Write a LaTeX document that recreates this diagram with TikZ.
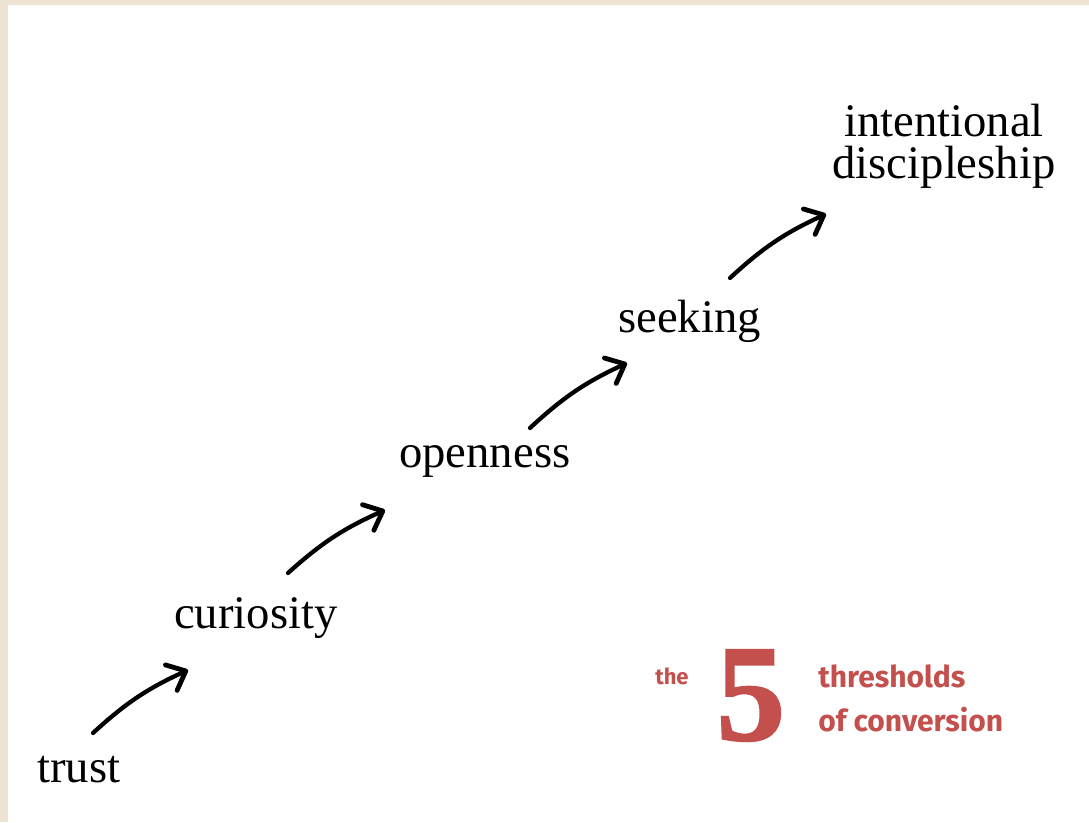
\documentclass[tikz,border=0pt]{standalone}
\usepackage{fontspec}
\setmainfont{Liberation Serif}
\newfontfamily\logofont{Fira Sans}
\newfontface\fivefont[FakeBold=1.3]{Liberation Serif Bold}
\usetikzlibrary{arrows.meta, positioning, calc}
\definecolor{paper}{RGB}{237,227,210}
\definecolor{logored}{RGB}{196,80,77}
\tikzset{
  thresholds/.style={
	x=0.75pt, y=-0.75pt, % one unit is one pixel of the sketch
	every node/.style={inner sep=0pt}, % text sits exactly where it is put
  },
  stage/.style={anchor=base west, font=\fontsize{35}{31.5}\selectfont}, % the serif labels
  climb/.style={-{Straight Barb[length=12pt,width=21pt,round,line width=3.6pt]}, line width=3.2pt, line cap=round, bend left=9}, % the hand drawn arrows
  logo/.style={text=logored, font=\logofont\bfseries\fontsize{22.5}{30}\selectfont, anchor=base west}, % the red caption
}

\begin{document}
\begin{tikzpicture}[thresholds]
\fill[paper] (0,0) rectangle (1089,822);
\fill[white] (8,5) rectangle (1089,822);

\node[stage] (trust) at (37,782) {trust};
\node[stage] (curiosity) at (174,628) {curiosity};
\node[stage] (openness) at (399,467) {openness};
\node[stage] (seeking) at (618,332) {seeking};
\node[stage, anchor=north, align=center] (disc) at (944,104) {intentional\\discipleship};

\coordinate (s1) at (93,733);  \coordinate (e1) at (188,670);
\coordinate (s2) at (288,573); \coordinate (e2) at (385,510);
\coordinate (s3) at (530,428); \coordinate (e3) at (627,363);
\coordinate (s4) at (730,278); \coordinate (e4) at (826,214);
\foreach \i in {1,...,4}
  \draw[climb] (s\i) to (e\i);

\node[logo, font=\logofont\bfseries\fontsize{16.5}{20}\selectfont] (the) at (655,684) {the};
\node[anchor=base west, text=logored, font=\fivefont\fontsize{103.5}{110}\selectfont] (five) at (716,740) {5};
\node[logo] (thr) at (818,687) {thresholds};
\node[logo] (conv) at (818,731) {of conversion};
\end{tikzpicture}
\end{document}
